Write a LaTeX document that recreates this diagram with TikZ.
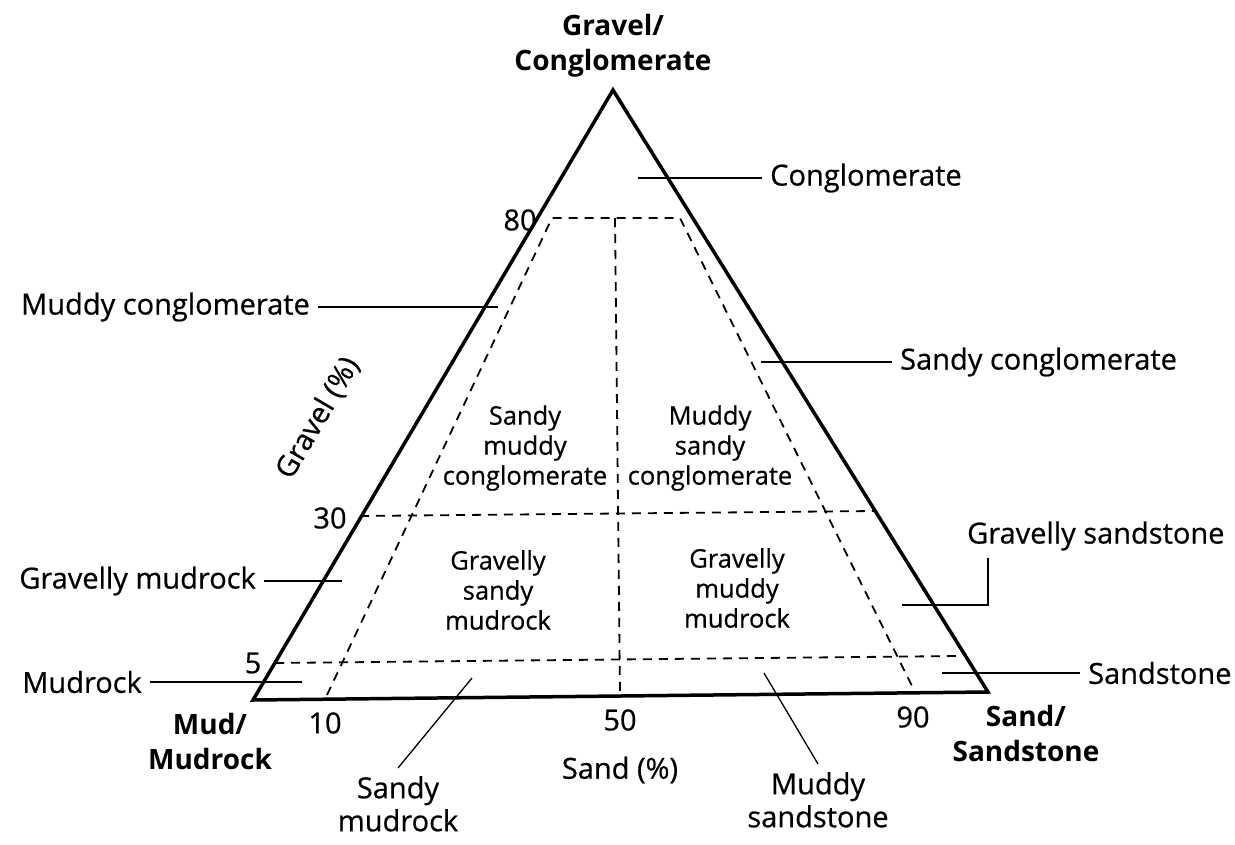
\documentclass[tikz,border=0pt]{standalone}
\usepackage{fontspec}
\setmainfont{Open Sans}[UprightFeatures={FakeBold=0.6}]

\tikzset{
  rim/.style={line width=3.5pt, line join=miter},
  zoneline/.style={line width=1.8pt, dash pattern=on 9pt off 7pt},
  leader/.style={line width=1.3pt},
  lbl/.style={font=\fontsize{29}{33}\selectfont, inner sep=8pt, align=center},
  zone/.style={font=\fontsize{25.5}{30}\selectfont, align=center, inner sep=0pt},
  corner/.style={font=\fontsize{28}{35}\selectfont\bfseries, align=center, inner sep=0pt},
  ticklbl/.style={font=\fontsize{29}{33}\selectfont, inner sep=0pt}
}

\begin{document}
\begin{tikzpicture}[x=1pt, y=-1pt]

  \useasboundingbox (0,0) rectangle (1235,844);

  % corners of the triangle
  \coordinate (gravel) at (613,90);
  \coordinate (mud) at (253,700);
  \coordinate (sand) at (988,692);

  \draw[rim] (gravel) -- (sand) -- (mud) -- cycle;

  % class boundaries
  \draw[zoneline] (327,695) -- (552,218) -- (680,218) -- (913,688);
  \draw[zoneline] (615,218) -- (620,694);
  \draw[zoneline] (360,516) -- (874,511);
  \draw[zoneline] (275,663) -- (958,656);

  % corner names
  \node[corner] (ctop) at (613,46) {Gravel/\\Conglomerate};
  \node[corner] (cleft) at (210,741) {Mud/\\Mudrock};
  \node[corner] (cright) at (1026,733) {Sand/\\Sandstone};

  % axis values
  \foreach \val/\px/\py in {80/520/220, 30/330/518, 5/253/663, 10/325/723, 50/620/720, 90/913/717} {
    \node[ticklbl] (t\val) at (\px,\py) {\val};
  }
  \node[ticklbl, rotate=59.5] (gaxis) at (318,418) {Gravel (\%)};
  \node[ticklbl] (saxis) at (620,770) {Sand (\%)};

  % classes inside
  \node[zone] (smc) at (525,448) {Sandy\\muddy\\conglomerate};
  \node[zone] (msc) at (710,448) {Muddy\\sandy\\conglomerate};
  \node[zone] (gsm) at (498,590) {Gravelly\\sandy\\mudrock};
  \node[zone] (gmm) at (737,588) {Gravelly\\muddy\\mudrock};

  % classes outside, with leaders
  \node[lbl, anchor=west] (cong) at (762,178) {Conglomerate};
  \coordinate (congin) at (638,178);
  \draw[leader] (congin) -- (cong.west);

  \node[lbl, anchor=east] (mudcong) at (318,307) {Muddy conglomerate};
  \coordinate (mudcongin) at (498,307);
  \draw[leader] (mudcong.east) -- (mudcongin);

  \node[lbl, anchor=west] (sandcong) at (892,362) {Sandy conglomerate};
  \coordinate (sandcongin) at (761,362);
  \draw[leader] (sandcongin) -- (sandcong.west);

  \node[lbl, anchor=east] (gravmud) at (264,581) {Gravelly mudrock};
  \coordinate (gravmudin) at (342,581);
  \draw[leader] (gravmud.east) -- (gravmudin);

  \node[lbl, anchor=west] (gravsand) at (959,536) {Gravelly sandstone};
  \coordinate (gravsandin) at (902,605);
  \coordinate (gravsandup) at (988,558);
  \draw[leader] (gravsandin) -| (gravsandup);

  \node[lbl, anchor=east] (mudrock) at (150,682) {Mudrock};
  \coordinate (mudrockin) at (302,682);
  \draw[leader] (mudrock.east) -- (mudrockin);

  \node[lbl, anchor=west] (sandstone) at (1080,673) {Sandstone};
  \coordinate (sandstonein) at (942,673);
  \draw[leader] (sandstonein) -- (sandstone.west);

  \node[lbl, anchor=north] (sandmud) at (398,768) {Sandy\\mudrock};
  \coordinate (sandmudin) at (472,678);
  \draw[leader] (sandmudin) -- (sandmud.north);

  \node[lbl, anchor=north] (mudsand) at (818,764) {Muddy\\sandstone};
  \coordinate (mudsandin) at (764,673);
  \draw[leader] (mudsandin) -- (mudsand.north);

\end{tikzpicture}
\end{document}
